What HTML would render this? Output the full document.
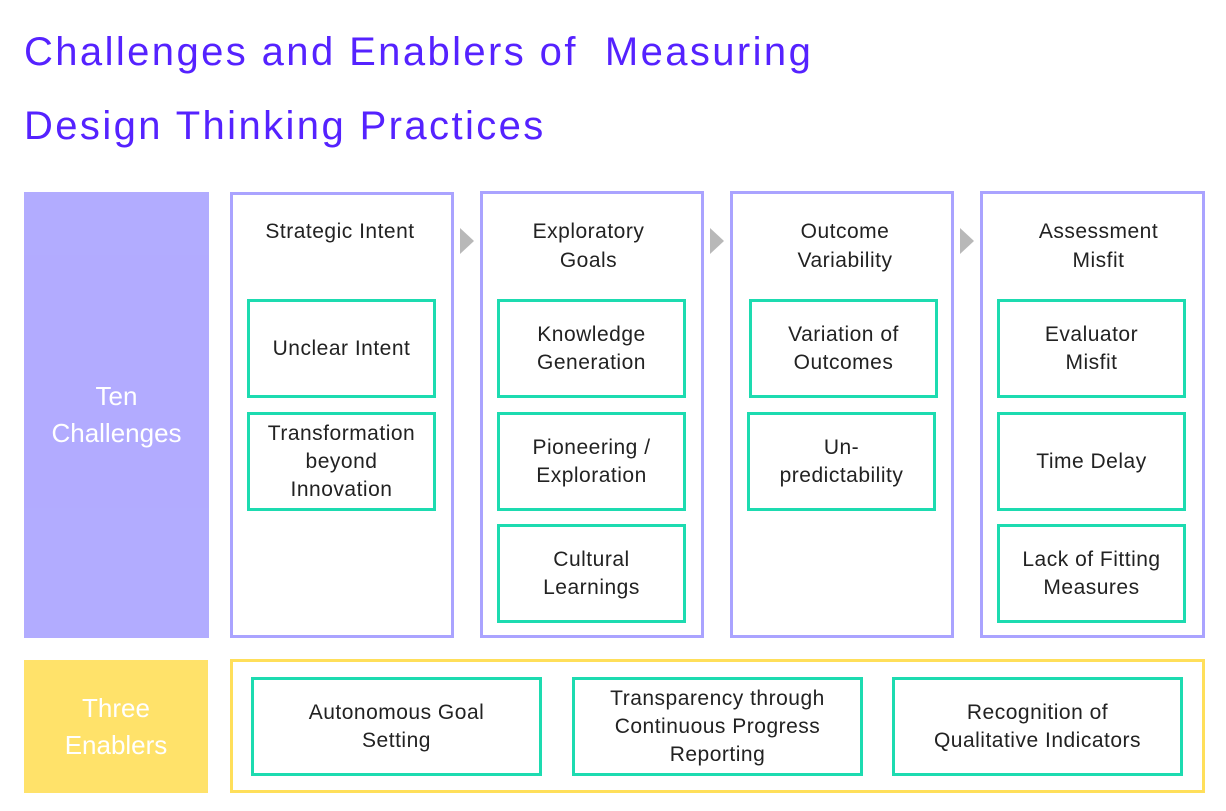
<!DOCTYPE html>
<html><head><meta charset="utf-8"><style>
body{margin:0;width:1226px;height:811px;background:#fff;position:relative;overflow:hidden;font-family:"Liberation Sans",sans-serif;}
.a{position:absolute;box-sizing:border-box;}
.t{color:#5522ff;font-size:40px;left:24px;white-space:nowrap;letter-spacing:2.4px}
.col{border:3px solid #aaa3ff;}
.box{border:3px solid #1ddbb0;display:flex;align-items:center;justify-content:center;text-align:center;font-size:21px;color:#222;line-height:28px;letter-spacing:0.5px}
.hd{font-size:21px;color:#222;text-align:center;line-height:29px;letter-spacing:0.5px}
.side{display:flex;align-items:center;justify-content:center;text-align:center;color:#fff;font-size:26px;line-height:37px;opacity:.9}
.arr{width:0;height:0;border-top:13px solid transparent;border-bottom:13px solid transparent;border-left:14px solid #b8b8b8;}
</style></head><body>
<div class="a t" style="top:30px">Challenges and Enablers of &nbsp;Measuring</div>
<div class="a t" style="top:104px">Design Thinking Practices</div>

<div class="a side" style="left:24px;top:192px;width:185px;height:446px;background:#aaa3ff">Ten<br>Challenges</div>
<div class="a side" style="left:24px;top:660px;width:184px;height:133px;background:#ffdf5a">Three<br>Enablers</div>

<div class="a col" style="left:230px;top:192px;width:224px;height:446px"></div>
<div class="a col" style="left:480px;top:191px;width:224px;height:447px"></div>
<div class="a col" style="left:730px;top:191px;width:224px;height:447px"></div>
<div class="a col" style="left:980px;top:191px;width:225px;height:447px"></div>

<div class="a arr" style="left:460px;top:228px"></div>
<div class="a arr" style="left:710px;top:228px"></div>
<div class="a arr" style="left:960px;top:228px"></div>

<div class="a hd" style="left:230px;top:217px;width:220px">Strategic Intent</div>
<div class="a hd" style="left:480px;top:217px;width:217px">Exploratory<br>Goals</div>
<div class="a hd" style="left:733px;top:217px;width:224px">Outcome<br>Variability</div>
<div class="a hd" style="left:985px;top:217px;width:227px">Assessment<br>Misfit</div>

<div class="a box" style="left:247px;top:299px;width:189px;height:99px">Unclear Intent</div>
<div class="a box" style="left:247px;top:412px;width:189px;height:99px">Transformation<br>beyond<br>Innovation</div>

<div class="a box" style="left:497px;top:299px;width:189px;height:99px">Knowledge<br>Generation</div>
<div class="a box" style="left:497px;top:412px;width:189px;height:99px">Pioneering /<br>Exploration</div>
<div class="a box" style="left:497px;top:524px;width:189px;height:99px">Cultural<br>Learnings</div>

<div class="a box" style="left:749px;top:299px;width:189px;height:99px">Variation of<br>Outcomes</div>
<div class="a box" style="left:747px;top:412px;width:189px;height:99px">Un-<br>predictability</div>

<div class="a box" style="left:997px;top:299px;width:189px;height:99px">Evaluator<br>Misfit</div>
<div class="a box" style="left:997px;top:412px;width:189px;height:99px">Time Delay</div>
<div class="a box" style="left:997px;top:524px;width:189px;height:99px">Lack of Fitting<br>Measures</div>

<div class="a" style="left:230px;top:659px;width:975px;height:134px;border:3px solid #ffdf5a;box-sizing:border-box"></div>
<div class="a box" style="left:251px;top:677px;width:291px;height:99px">Autonomous Goal<br>Setting</div>
<div class="a box" style="left:572px;top:677px;width:291px;height:99px">Transparency through<br>Continuous Progress<br>Reporting</div>
<div class="a box" style="left:892px;top:677px;width:291px;height:99px">Recognition of<br>Qualitative Indicators</div>
</body></html>
